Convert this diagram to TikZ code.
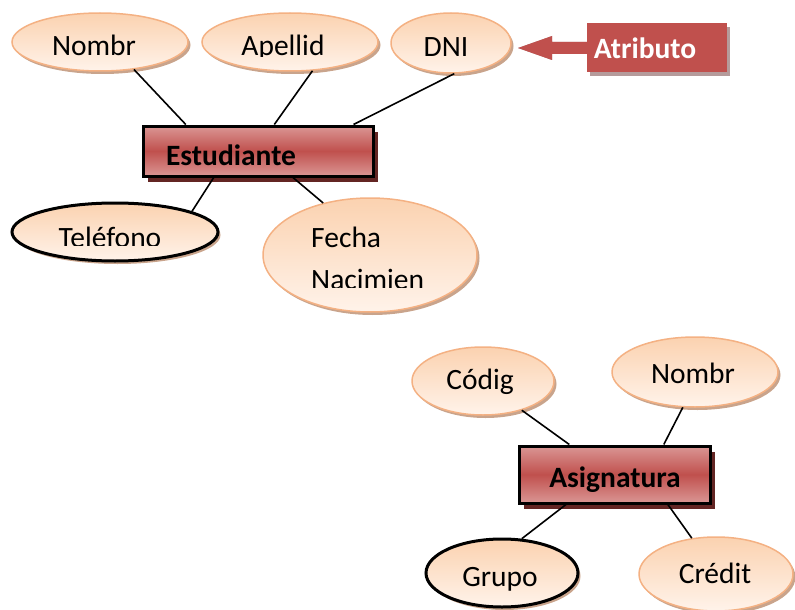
\documentclass[tikz,border=0pt]{standalone}
\usepackage{fontspec}
\setmainfont{Carlito}
\usetikzlibrary{shapes.geometric,shadows,calc}

\definecolor{peachTop}{HTML}{FBD2B0}
\definecolor{peachBot}{HTML}{FFF3EA}
\definecolor{peachLine}{HTML}{F4B183}
\definecolor{peachShadow}{HTML}{C9A48C}
\definecolor{redMid}{HTML}{C0504D}
\definecolor{redLight}{HTML}{DA9694}
\definecolor{redShadow}{HTML}{632523}
\definecolor{calloutShadow}{HTML}{B59B9B}

\tikzset{
  attr/.style={ellipse, inner sep=0pt, draw=peachLine, line width=1.5pt,
    top color=peachTop, bottom color=peachBot,
    drop shadow={shadow xshift=2.5pt, shadow yshift=-3pt, fill=peachShadow, opacity=1}},
  keyattr/.style={attr, draw=black, line width=3pt},
  entity/.style={rectangle, inner sep=0pt, draw=black, line width=3pt,
    top color=redLight, bottom color=redLight, middle color=redMid,
    drop shadow={shadow xshift=5pt, shadow yshift=-6pt, fill=redShadow, opacity=1}},
  txt/.style={anchor=base, inner sep=0pt, font=\fontsize{29.5}{35}\selectfont},
  btxt/.style={txt, font=\fontsize{29.5}{35}\selectfont\bfseries},
  link/.style={line width=1.6pt},
}

\begin{document}
\begin{tikzpicture}[x=1pt, y=-1pt]
\useasboundingbox (0,0) rectangle (795,610);

% ---------- Estudiante ----------
\node[attr, minimum width=176pt, minimum height=58pt] (eNombre) at (100,42) {};
\node[txt] (tNombre) at (94,56) {Nombr};

\node[attr, minimum width=176pt, minimum height=58pt] (eApellido) at (290,42) {};
\begin{scope}
  \clip (200,10) rectangle (380,57);
  \node[txt] (tApellido) at (283,56) {Apellid};
\end{scope}

\node[attr, minimum width=120pt, minimum height=60pt] (eDNI) at (451,43) {};
\node[txt] (tDNI) at (446,57) {DNI};

\node[entity, minimum width=230pt, minimum height=50pt] (est) at (258,151) {};
\node[btxt] (tEst) at (231,165) {Estudiante};

\node[keyattr, minimum width=206pt, minimum height=58pt] (eTel) at (115,232) {};
\begin{scope}
  \clip (40,200) rectangle (200,245);
  \node[txt] (tTel) at (110,247) {Teléfono};
\end{scope}

\node[attr, minimum width=214pt, minimum height=114pt] (eFecha) at (370,255) {};
\node[txt, anchor=base west] (tFecha) at (311,247) {Fecha};
\begin{scope}
  \clip (300,255) rectangle (460,287);
  \node[txt, anchor=base west] (tNac) at (311,289) {Nacimien};
\end{scope}

\draw[link] (eNombre.-39)   -- ($(est.north west)!0.19!(est.north east)$);
\draw[link] (eApellido.-52) -- ($(est.north west)!0.57!(est.north east)$);
\draw[link] (eDNI.-84)      -- ($(est.north west)!0.91!(est.north east)$);
\draw[link] (eTel.15)       -- ($(est.south west)!0.31!(est.south east)$);
\draw[link] (eFecha.132)    -- ($(est.south west)!0.65!(est.south east)$);

% ---------- callout ----------
\coordinate (arrowTip) at (518,48);
\fill[calloutShadow, shift={(3,4)}] (arrowTip) -- ++(34,-12) -- ++(0,6) -- ++(40,0)
  -- ++(0,12) -- ++(-40,0) -- ++(0,6) -- cycle;
\fill[redMid] (arrowTip) -- ++(34,-12) -- ++(0,6) -- ++(40,0)
  -- ++(0,12) -- ++(-40,0) -- ++(0,6) -- cycle;
\node[rectangle, inner sep=0pt, fill=redMid, minimum width=140pt, minimum height=49pt,
  drop shadow={shadow xshift=3pt, shadow yshift=-4pt, fill=calloutShadow, opacity=1}]
  (atr) at (657,47.5) {};
\node[btxt, text=white] (tAtr) at (645,59) {Atributo};

% ---------- Asignatura ----------
\node[attr, minimum width=142pt, minimum height=68pt] (eCod) at (483,381) {};
\node[txt] (tCod) at (480,389) {Códig};

\node[attr, minimum width=166pt, minimum height=70pt] (eNom2) at (695,372) {};
\node[txt] (tNom2) at (693,383) {Nombr};

\node[entity, minimum width=191pt, minimum height=57pt] (asig) at (614.5,474.5) {};
\node[btxt] (tAsig) at (615,487) {Asignatura};

\node[keyattr, minimum width=152pt, minimum height=68pt] (eGrupo) at (502,573) {};
\node[txt] (tGrupo) at (500,586) {Grupo};

\node[attr, minimum width=154pt, minimum height=74pt] (eCred) at (716,574) {};
\node[txt] (tCred) at (715,583) {Crédit};

\draw[link] (eCod.-37)    -- ($(asig.north west)!0.267!(asig.north east)$);
\draw[link] (eNom2.-109)  -- ($(asig.north west)!0.754!(asig.north east)$);
\draw[link] (eGrupo.60)   -- ($(asig.south west)!0.25!(asig.south east)$);
\draw[link] (eCred.124)   -- ($(asig.south west)!0.775!(asig.south east)$);
\end{tikzpicture}
\end{document}
